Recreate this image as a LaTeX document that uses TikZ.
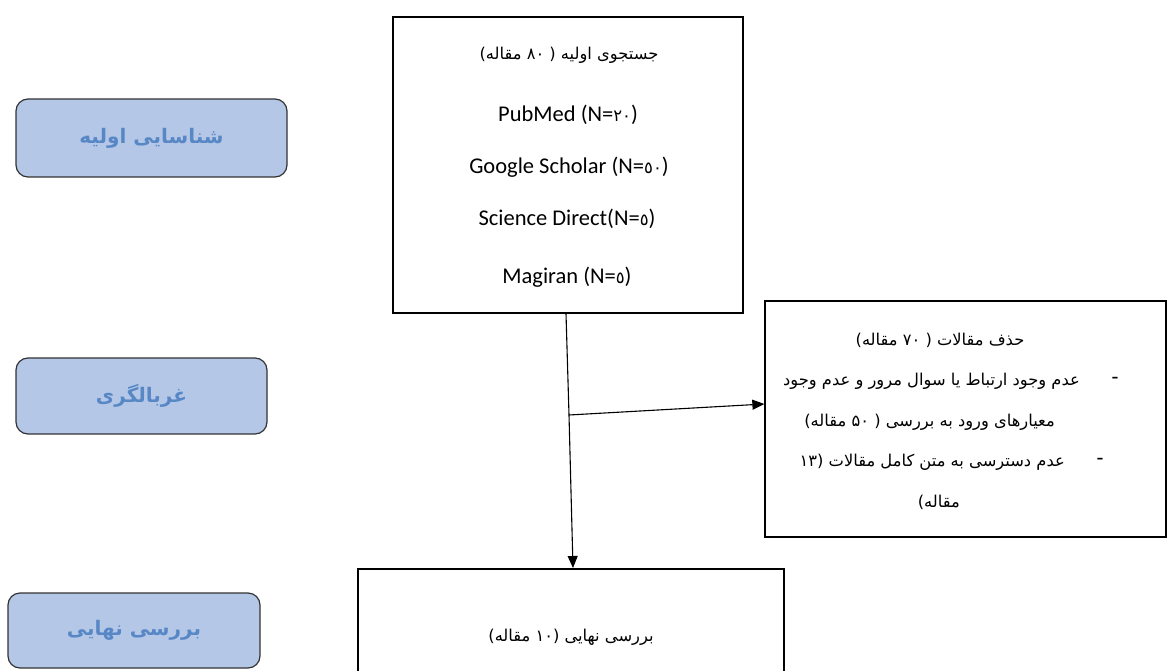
\documentclass[tikz,border=0pt]{standalone}
\usepackage{fontspec}
\setmainfont{Carlito}
\usetikzlibrary{arrows.meta}
\TeXXeTstate=1
\newfontfamily\arabicfont[Script=Arabic]{DejaVu Sans}
\newfontfamily\digitfont{DejaVu Sans}
\definecolor{phasefill}{RGB}{180,199,231}
\definecolor{phasetext}{RGB}{88,135,198}
\newcommand{\dg}[1]{{\digitfont\fontsize{16.5}{20}\selectfont #1}}
\begin{document}
\begin{tikzpicture}[x=1pt,y=-1pt,
  phase/.style={draw=black!80, line width=1.2pt, fill=phasefill, rounded corners=12pt,
    font=\arabicfont\bfseries\fontsize{20}{24}\selectfont, text=phasetext},
  box/.style={draw=black, line width=1.3pt, inner sep=0pt},
  lat/.style={font=\fontsize{22.5}{26}\selectfont, inner sep=0pt},
  fa/.style={font=\arabicfont\fontsize{16.3}{20}\selectfont, inner sep=0pt},
  arr/.style={line width=1.1pt, -{Triangle[length=12pt,width=10pt]}}]
\useasboundingbox (0,0) rectangle (1169,671);
\clip (0,0) rectangle (1169,671);
% phase labels
\node[phase, minimum width=271pt, minimum height=78pt] (l1) at (151.5,138) {\beginR شناسایی اولیه\endR};
\node[phase, minimum width=251pt, minimum height=76pt] (l2) at (141.5,396) {\beginR غربالگری\endR};
\node[phase, minimum width=252pt, minimum height=75pt] (l3) at (134,630.5) {\beginR بررسی نهایی\endR};
% boxes
\node[box, minimum width=350pt, minimum height=296pt] (top) at (568,165) {};
\node[box, minimum width=401pt, minimum height=236pt] (rbox) at (965.5,419) {};
\node[box, minimum width=426pt, minimum height=136pt, fa] (bot) at (571,637) {\beginR بررسی نهایی  (\beginL۱۰\endL{} مقاله)\endR};
% top box text
\node[fa] (t0) at (569,55) {\beginR جستجوی اولیه ( \beginL۸۰\endL{} مقاله)\endR};
\node[lat] (t1) at (568,115) {PubMed (N=\dg{٢٠})};
\node[lat] (t2) at (569,167) {Google Scholar (N=\dg{٥٠})};
\node[lat] (t3) at (567,219) {Science Direct(N=\dg{٥})};
\node[lat] (t4) at (567,277) {Magiran (N=\dg{٥})};
% right box text
\node[fa] (r0) at (940,340) {\beginR حذف مقالات  ( \beginL۷۰\endL{} مقاله)\endR};
\node[lat] (d1) at (1115,381) {-};
\node[fa, anchor=east] (r1) at (1080,381) {\beginR عدم وجود ارتباط یا سوال مرور و عدم وجود\endR};
\node[fa, anchor=east] (r2) at (1055,422) {\beginR معیارهای ورود به بررسی ( \beginL۵۰\endL{} مقاله)\endR};
\node[lat] (d2) at (1100,462) {-};
\node[fa, anchor=east] (r3) at (1065,462) {\beginR عدم دسترسی به متن کامل مقالات (\beginL۱۳\endL\endR};
\node[fa, anchor=east] (r4) at (960,502) {\beginR مقاله)\endR};
% connectors
\coordinate (vs) at ([xshift=-2pt]top.south);
\coordinate (ve) at (573,568);
\coordinate (hs) at (569,415);
\coordinate (he) at (rbox.west |- 0,404);
\draw[line width=1.1pt] (vs) -- (hs);
\draw[arr] (hs) -- (ve);
\draw[arr] (hs) -- (he);
\end{tikzpicture}
\end{document}
